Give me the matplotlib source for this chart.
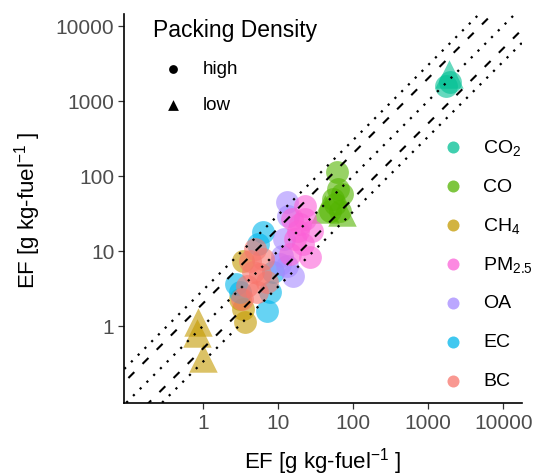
import numpy as np
import matplotlib
matplotlib.use("Agg")
import matplotlib.pyplot as plt

plt.rcParams["font.family"] = ["Liberation Sans", "DejaVu Sans"]
plt.rcParams["mathtext.fontset"] = "custom"
plt.rcParams["mathtext.rm"] = "Liberation Sans"
plt.rcParams["mathtext.it"] = "Liberation Sans:italic"
plt.rcParams["mathtext.default"] = "regular"

# Emission factors (g per kg fuel): model estimate (x) vs measured (y)
co2_x = [1950, 1720, 1880]
co2_y = [1770, 1570, 2300]
co2_pack = ["high", "high", "low"]

co_x = [61, 62, 54, 70, 49, 66, 57, 42, 70]
co_y = [111, 66, 49, 57, 34, 34, 42, 36, 33]
co_pack = ["high"] * 7 + ["low"] * 2

ch4_x = [3.6, 3.4, 3.4, 3.1, 0.85, 0.82, 0.99]
ch4_y = [1.12, 1.67, 7.3, 2.3, 1.12, 0.80, 0.37]
ch4_pack = ["high"] * 4 + ["low"] * 3

ec_x = [7.1, 6.25, 7.7, 8.5, 3.1, 5.35, 2.7]
ec_y = [1.56, 17.7, 2.8, 5.2, 2.8, 12.3, 3.6]
ec_pack = ["high"] * 7

oa_x = [13.1, 13.1, 15.5, 11.2, 13.5, 11.9, 10.5]
oa_y = [44.6, 6.25, 4.6, 8.5, 29.0, 14.3, 6.6]
oa_pack = ["high"] * 7

pm_x = [22.7, 19.4, 16.7, 14.3, 26.4, 28.0, 22.7, 18.3, 21.3, 15.2]
pm_y = [39.5, 22.6, 14.3, 9.0, 8.2, 18.2, 26.4, 18.2, 12.3, 26.4]
pm_pack = ["high"] * 10

bc_x = [6.25, 4.6, 3.8, 3.3, 7.1, 5.2, 4.9, 4.2, 5.7]
bc_y = [7.7, 5.2, 3.4, 2.3, 3.8, 2.8, 10.5, 7.3, 4.9]
bc_pack = ["high"] * 9

species = ["CO2", "CO", "CH4", "EC", "OA", "PM2.5", "BC"]
species_x = [co2_x, co_x, ch4_x, ec_x, oa_x, pm_x, bc_x]
species_y = [co2_y, co_y, ch4_y, ec_y, oa_y, pm_y, bc_y]
species_pack = [co2_pack, co_pack, ch4_pack, ec_pack, oa_pack, pm_pack, bc_pack]

colors = {"BC": "#F8766D", "CH4": "#C49A00", "CO": "#53B400", "CO2": "#00C094",
          "EC": "#00B6EB", "OA": "#A58AFF", "PM2.5": "#FB61D7"}
labels = {"CO2": "CO$_2$", "CO": "CO", "CH4": "CH$_4$", "PM2.5": "PM$_{2.5}$",
          "OA": "OA", "EC": "EC", "BC": "BC"}
legend_order = ["CO2", "CO", "CH4", "PM2.5", "OA", "EC", "BC"]
markers = {"high": "o", "low": "^"}

# Reference lines: 1:1 (dotted), factor 2 (dashed), factor 3 (dotted)
ratio_dashed = [2.0, 0.5]
ratio_dotted = [1.0, 3.0, 1.0 / 3.0]

tick_vals = [1, 10, 100, 1000, 10000]
tick_labels = ["1", "10", "100", "1000", "10000"]

W, H = 538, 477
fig = plt.figure(figsize=(W / 100, H / 100), dpi=100)
ax = fig.add_axes([124 / W, 1 - 404 / H, (522 - 124) / W, (404 - 15) / H])

for sp, xs, ys, pk in zip(species, species_x, species_y, species_pack):
    for shape in ["high", "low"]:
        px = [x for x, p in zip(xs, pk) if p == shape]
        py = [y for y, p in zip(ys, pk) if p == shape]
        if px:
            ax.scatter(px, py, s=270 if shape == "high" else 420,
                       marker=markers[shape], color=colors[sp], alpha=0.6,
                       linewidths=0, zorder=2)

xx = np.logspace(-3, 6, 400)
for r in ratio_dashed:
    ax.plot(xx, r * xx, color="black", lw=1.5, dashes=(4.0, 5.6),
            dash_capstyle="butt", zorder=3)
for r in ratio_dotted:
    ax.plot(xx, r * xx, color="black", lw=1.6, dashes=(1.0, 3.3),
            dash_capstyle="butt", zorder=3)

ax.set_xscale("log")
ax.set_yscale("log")
ax.set_xlim(0.0877, 17750)
ax.set_ylim(0.0932, 14320)
ax.set_xticks(tick_vals)
ax.set_xticklabels(tick_labels)
ax.set_yticks(tick_vals)
ax.set_yticklabels(tick_labels)
ax.minorticks_off()
ax.tick_params(axis="both", which="major", direction="out", length=4,
               width=0.9, color="#333333", labelcolor="#4D4D4D",
               labelsize=15, pad=3)
for side in ["top", "right"]:
    ax.spines[side].set_visible(False)
for side in ["left", "bottom"]:
    ax.spines[side].set_linewidth(1.2)
    ax.spines[side].set_color("black")


def fx(px):
    return px / W


def fy(py):
    return 1 - py / H


axis_title = "EF [g kg-fuel$^{-1}$ ]"
fig.text(fx(323), fy(462), axis_title, ha="center", va="center", fontsize=16)
fig.text(fx(28), fy(210), axis_title, ha="center", va="center",
         fontsize=16, rotation=90)

# Packing density legend
fig.text(fx(153), fy(30), "Packing Density", ha="left", va="center", fontsize=16.5)
legend_ax = fig.add_axes([0, 0, 1, 1], facecolor="none")
legend_ax.set_xlim(0, W)
legend_ax.set_ylim(H, 0)
legend_ax.axis("off")
pack_levels = ["high", "low"]
for lvl, py in zip(pack_levels, [70, 106]):
    legend_ax.scatter([173], [py], marker=markers[lvl], s=40 if lvl == "high" else 60,
                      color="black", linewidths=0)
    fig.text(fx(203), fy(py), lvl, ha="left", va="center", fontsize=13.5)

# Species legend
for i, sp in enumerate(legend_order):
    py = 148 + i * 39
    legend_ax.scatter([453], [py], marker="o", s=75, color=colors[sp],
                      alpha=0.75, linewidths=0)
    fig.text(fx(483), fy(py), labels[sp], ha="left", va="center", fontsize=14)

fig.savefig("out.png", dpi=100)
